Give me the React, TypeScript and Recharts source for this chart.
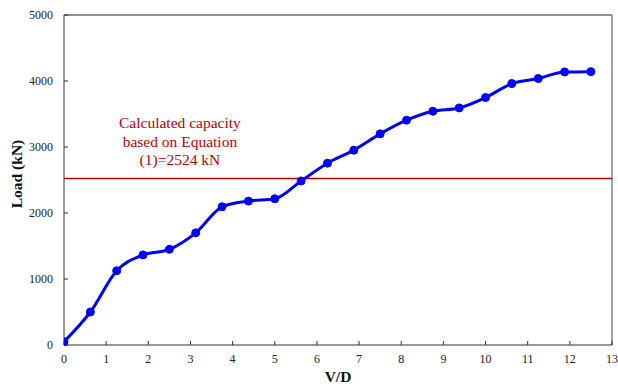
import React from 'react';
import { LineChart, Line, XAxis, YAxis, ReferenceLine, ReferenceDot } from 'recharts';

const vdValues = [0, 0.625, 1.25, 1.875, 2.5, 3.125, 3.75, 4.375, 5, 5.625, 6.25, 6.875, 7.5, 8.125, 8.75, 9.375, 10, 10.625, 11.25, 11.875, 12.5];
const loadValues = [50, 500, 1125, 1365, 1450, 1700, 2094, 2180, 2215, 2485, 2755, 2952, 3199, 3406, 3542, 3592, 3749, 3961, 4037, 4137, 4142];
const xTicks = [0, 1, 2, 3, 4, 5, 6, 7, 8, 9, 10, 11, 12, 13];
const yTicks = [0, 1000, 2000, 3000, 4000, 5000];
const xMax = 13;
const yMax = 5000;
const capacity = 2524;
const noteLines = ['Calculated capacity', 'based on Equation', '(1)=2524 kN'];
const notePos = { x: 2.75, y: 3088 };

const data = vdValues.map((v, i) => ({ vd: v, load: loadValues[i] }));

const FONT = '"Liberation Serif", "Times New Roman", serif';

const NoteShape = (props: any) => {
  const { cx, cy } = props;
  return (
    <text x={cx} y={cy} textAnchor="middle" fill="#c00000" fontFamily={FONT} fontSize={15.5}>
      {noteLines.map((l, i) => (
        <tspan key={i} x={cx} dy={i === 0 ? '-0.85em' : '1.2em'}>
          {l}
        </tspan>
      ))}
    </text>
  );
};

export default function App() {
  return (
    <div style={{ position: 'absolute', left: 0, top: 0, background: '#fff' }}>
      <LineChart width={618} height={386} data={data} margin={{ top: 15, right: 6, bottom: 0, left: 0 }}>
        <XAxis
          dataKey="vd"
          type="number"
          domain={[0, xMax]}
          ticks={xTicks}
          interval={0}
          allowDataOverflow
          height={41}
          tickSize={-4}
          tickMargin={13}
          stroke="#333"
          tick={{ fill: '#222', fontFamily: FONT, fontSize: 12 }}
          label={(p: any) => {
            const vb = p.viewBox;
            return (
              <text x={vb.x + vb.width / 2} y={vb.y + 37} textAnchor="middle" fontFamily={FONT} fontWeight="bold" fontSize={15.5} fill="#111">
                V/D
              </text>
            );
          }}
        />
        <YAxis
          type="number"
          domain={[0, yMax]}
          ticks={yTicks}
          interval={0}
          width={64}
          tickSize={-4}
          tickMargin={15}
          stroke="#333"
          tick={{ fill: '#222', fontFamily: FONT, fontSize: 12 }}
          label={(p: any) => {
            const vb = p.viewBox;
            const cx = 16;
            const cy = vb.y + vb.height / 2 - 6;
            return (
              <text x={cx} y={cy} transform={`rotate(-90, ${cx}, ${cy})`} textAnchor="middle" dominantBaseline="central" fontFamily={FONT} fontWeight="bold" fontSize={15.5} fill="#111">
                Load (kN)
              </text>
            );
          }}
        />
        <ReferenceLine y={yMax} stroke="#222" strokeWidth={1} />
        <ReferenceLine x={xMax} stroke="#808080" strokeWidth={1.5} />
        <ReferenceLine y={capacity} stroke="#c00000" strokeWidth={1.5} />
        <ReferenceDot x={notePos.x} y={notePos.y} r={0} shape={NoteShape} />
        <Line
          type="monotone"
          dataKey="load"
          stroke="#0000ff"
          strokeWidth={3}
          dot={{ r: 4, fill: '#0000ff', stroke: '#0000ff', strokeWidth: 1 }}
          isAnimationActive={false}
        />
      </LineChart>
    </div>
  );
}
